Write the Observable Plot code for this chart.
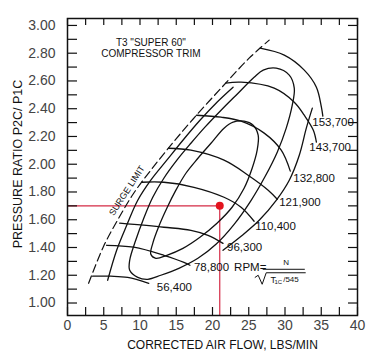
<!DOCTYPE html>
<html><head><meta charset="utf-8">
<script src="https://cdn.jsdelivr.net/npm/d3@7"></script>
<script src="https://cdn.jsdelivr.net/npm/@observablehq/plot@0.6"></script>
<style>body{margin:0;background:#fff}#chart svg{display:block}</style>
</head><body><div id="chart"></div>
<script>
// ---- axis ticks ----
const xTickLabels = [0, 5, 10, 15, 20, 25, 30, 35, 40];
const xTicks = [0, 2.5, 5, 7.5, 10, 12.5, 15, 17.5, 20, 22.5, 25, 27.5, 30, 32.5, 35, 37.5, 40];
const yTickLabels = [1.0, 1.2, 1.4, 1.6, 1.8, 2.0, 2.2, 2.4, 2.6, 2.8, 3.0];
const yTicks = [1.0, 1.1, 1.2, 1.3, 1.4, 1.5, 1.6, 1.7, 1.8, 1.9, 2.0, 2.1, 2.2, 2.3, 2.4, 2.5, 2.6, 2.7, 2.8, 2.9, 3.0];

// ---- surge limit (dashed) ----
const surgeX = [2.91, 4.98, 7.06, 9.13, 11.49, 14.26, 17.30, 21.18, 25.05, 27.82];
const surgeY = [1.142, 1.409, 1.611, 1.791, 1.957, 2.137, 2.324, 2.548, 2.764, 2.894];

// ---- speed lines ----
const s56400X = [3.46, 5.95, 8.30, 11.21];
const s56400Y = [1.193, 1.193, 1.185, 1.142];
const s78800X = [5.40, 9.13, 13.29, 16.06, 16.89];
const s78800Y = [1.416, 1.402, 1.344, 1.293, 1.272];
const s96300X = [7.20, 13.29, 17.02, 19.38, 21.45];
const s96300Y = [1.575, 1.546, 1.524, 1.488, 1.430];
const s110400X = [10.24, 13.29, 17.44, 21.59, 23.94, 25.74];
const s110400Y = [1.870, 1.870, 1.834, 1.762, 1.690, 1.589];
const s121900X = [13.92, 17.02, 21.59, 24.91, 27.68, 28.93];
const s121900Y = [2.115, 2.101, 2.029, 1.921, 1.813, 1.748];
const s132800X = [17.80, 21.18, 23.94, 27.13, 29.48, 30.73];
const s132800Y = [2.353, 2.339, 2.310, 2.224, 2.101, 1.950];
const s143700X = [21.82, 23.94, 28.51, 31.28, 32.66, 33.91, 34.33];
const s143700Y = [2.584, 2.591, 2.548, 2.447, 2.353, 2.245, 2.159];
const s153700X = [26.57, 29.90, 32.66, 34.33, 35.02, 35.22];
const s153700Y = [2.836, 2.786, 2.678, 2.555, 2.411, 2.346];

const speedLabels = ["56,400", "78,800", "96,300", "110,400", "121,900", "132,800", "143,700", "153,700"];
const speedLabelX = [12.32, 17.44, 22.01, 25.88, 29.20, 31.14, 33.36, 33.77];
const speedLabelY = [1.113, 1.257, 1.402, 1.553, 1.726, 1.899, 2.123, 2.303];

// ---- efficiency islands ----
const effOuterLeftX = [5.54, 6.78, 8.17, 9.69, 11.49, 13.70, 15.92, 18.27, 20.62, 22.84];
const effOuterLeftY = [1.164, 1.380, 1.560, 1.740, 1.885, 2.029, 2.173, 2.317, 2.447, 2.555];
const effOuterRightX = [33.77, 32.94, 31.97, 30.59, 28.79, 26.44, 23.94, 21.45];
const effOuterRightY = [2.404, 2.260, 2.065, 1.885, 1.740, 1.596, 1.481, 1.380];
const effMidX = [25.74, 23.53, 21.18, 18.96, 17.02, 15.09, 13.29, 11.76, 10.52, 9.41, 8.58, 8.58, 9.69, 11.07, 12.87, 15.36, 17.99, 20.48, 22.98, 25.33, 27.27, 28.93, 30.17, 31.00, 31.28, 30.59, 28.79, 26.99];
const effMidY = [2.627, 2.512, 2.389, 2.267, 2.151, 2.029, 1.899, 1.762, 1.611, 1.452, 1.308, 1.236, 1.185, 1.171, 1.200, 1.250, 1.322, 1.423, 1.567, 1.740, 1.913, 2.087, 2.260, 2.425, 2.548, 2.642, 2.692, 2.678];
const effInnerX = [21.59, 22.84, 24.36, 25.61, 26.30, 26.16, 25.47, 24.36, 22.70, 20.62, 18.27, 15.92, 13.70, 12.18, 11.49, 11.76, 12.60, 13.70, 14.95, 16.33, 17.99, 19.79];
const effInnerY = [2.260, 2.303, 2.310, 2.281, 2.209, 2.101, 1.971, 1.827, 1.690, 1.575, 1.474, 1.394, 1.344, 1.322, 1.351, 1.430, 1.553, 1.683, 1.813, 1.935, 2.043, 2.151];

// ---- operating point ----
const opFlow = 21.0;
const opRatio = 1.70;

// ---- annotations ----
const titleLines = ['T3 "SUPER 60"', "COMPRESSOR TRIM"];
const titleX = [11.5, 11.5];
const titleY = [2.878, 2.796];
const surgeLabel = "SURGE LIMIT";
const surgeLabelX = 8.2;
const surgeLabelY = 1.81;
const radicalX = [25.88, 26.30, 26.85, 27.41, 32.80];
const radicalY = [1.185, 1.200, 1.135, 1.218, 1.218];
const fracBarX = [26.99, 32.80];
const fracBarY = 1.243;

const yDomain = [0.91, 3.05];
const W = 372, H = 361, mL = 67, mR = 15, mT = 18, mB = 46;
const plotW = W - mL - mR, plotH = H - mT - mB;
const FONT = "'Liberation Sans', Arial, Helvetica, sans-serif";

const pts = (xs, ys) => xs.map((x, i) => ({x, y: ys[i]}));
const speedSeries = [
  [s56400X, s56400Y], [s78800X, s78800Y], [s96300X, s96300Y], [s110400X, s110400Y],
  [s121900X, s121900Y], [s132800X, s132800Y], [s143700X, s143700Y], [s153700X, s153700Y]
];
const lineStyle = {x: "x", y: "y", stroke: "#111", strokeWidth: 1.3, curve: "catmull-rom"};

const chart = Plot.plot({
  width: W, height: H,
  marginLeft: mL, marginRight: mR, marginTop: mT, marginBottom: mB,
  style: {fontFamily: FONT, background: "#fff", color: "#111"},
  x: {domain: [0, 40], label: null},
  y: {domain: yDomain, label: null},
  marks: [
    Plot.ruleY([opRatio], {x1: 0, x2: opFlow, stroke: "#d42a45", strokeWidth: 1.2}),
    Plot.ruleX([opFlow], {y1: yDomain[0], y2: opRatio, stroke: "#d42a45", strokeWidth: 1.2}),
    Plot.line(pts(surgeX, surgeY), {...lineStyle, strokeDasharray: "8,4", strokeWidth: 1.2}),
    Plot.line(pts(effOuterLeftX, effOuterLeftY), lineStyle),
    Plot.line(pts(effOuterRightX, effOuterRightY), lineStyle),
    Plot.line(pts(effMidX, effMidY), {...lineStyle, curve: "catmull-rom-closed"}),
    Plot.line(pts(effInnerX, effInnerY), {...lineStyle, curve: "catmull-rom-closed"}),
    ...speedSeries.map(([xs, ys]) => Plot.line(pts(xs, ys), lineStyle)),
    Plot.text(speedLabels, {x: (d, i) => speedLabelX[i], y: (d, i) => speedLabelY[i], text: d => d,
      textAnchor: "start", lineAnchor: "middle", fontSize: 11.5, fill: "#111"}),
    Plot.dot([opFlow], {x: d => d, y: () => opRatio, r: 4, fill: "#e3141e", stroke: "none"}),
    Plot.text(titleLines, {x: (d, i) => titleX[i], y: (d, i) => titleY[i], text: d => d,
      textAnchor: "middle", lineAnchor: "middle", fontSize: 10, fill: "#111"}),
    Plot.text([surgeLabel], {x: () => surgeLabelX, y: () => surgeLabelY, text: d => d, rotate: -57,
      textAnchor: "middle", lineAnchor: "middle", fontSize: 9, fill: "#111"}),
    Plot.text(["RPM="], {x: () => 22.98, y: () => 1.257, text: d => d, textAnchor: "start", lineAnchor: "middle", fontSize: 11.5, fill: "#111"}),
    Plot.text(["N"], {x: () => 30.17, y: () => 1.290, text: d => d, textAnchor: "middle", lineAnchor: "middle", fontSize: 8, fill: "#111"}),
    Plot.ruleY([fracBarY], {x1: fracBarX[0], x2: fracBarX[1], stroke: "#111", strokeWidth: 1}),
    Plot.line(pts(radicalX, radicalY), {x: "x", y: "y", stroke: "#111", strokeWidth: 1}),
    Plot.text(["T"], {x: () => 28.37, y: () => 1.164, text: d => d, textAnchor: "middle", lineAnchor: "middle", fontSize: 9, fill: "#111"}),
    Plot.text(["1C"], {x: () => 29.07, y: () => 1.149, text: d => d, textAnchor: "middle", lineAnchor: "middle", fontSize: 6, fill: "#111"}),
    Plot.text(["/545"], {x: () => 29.75, y: () => 1.171, text: d => d, textAnchor: "start", lineAnchor: "middle", fontSize: 8, fill: "#111"}),
    Plot.tickY(yTicks, {y: d => d, insetRight: plotW - 10, stroke: "#111", strokeWidth: 1.2}),
    Plot.tickY(yTicks, {y: d => d, insetLeft: plotW - 9, stroke: "#111", strokeWidth: 1.2}),
    Plot.tickX(xTicks, {x: d => d, insetTop: plotH - 8, stroke: "#111", strokeWidth: 1.2}),
    Plot.tickX(xTicks, {x: d => d, insetBottom: plotH - 7, stroke: "#111", strokeWidth: 1.2}),
    Plot.axisX({ticks: xTickLabels, tickSize: 0, tickPadding: 5, fontSize: 14, fill: "#444", label: null}),
    Plot.axisY({ticks: yTickLabels, tickSize: 0, tickPadding: 12, fontSize: 14, fill: "#444", tickFormat: d => d.toFixed(2), label: null}),
    Plot.text(["CORRECTED AIR FLOW, LBS/MIN"], {frameAnchor: "bottom", dy: 30, dx: 10, text: d => d,
      textAnchor: "middle", lineAnchor: "middle", fontSize: 12, fill: "#111"}),
    Plot.text(["PRESSURE RATIO P2C/ P1C"], {frameAnchor: "left", dx: -50, dy: -3, rotate: -90, text: d => d,
      textAnchor: "middle", lineAnchor: "middle", fontSize: 12.5, fill: "#111"}),
    Plot.frame({stroke: "#111", strokeWidth: 1.5})
  ]
});
document.getElementById("chart").append(chart);
</script>
</body></html>
